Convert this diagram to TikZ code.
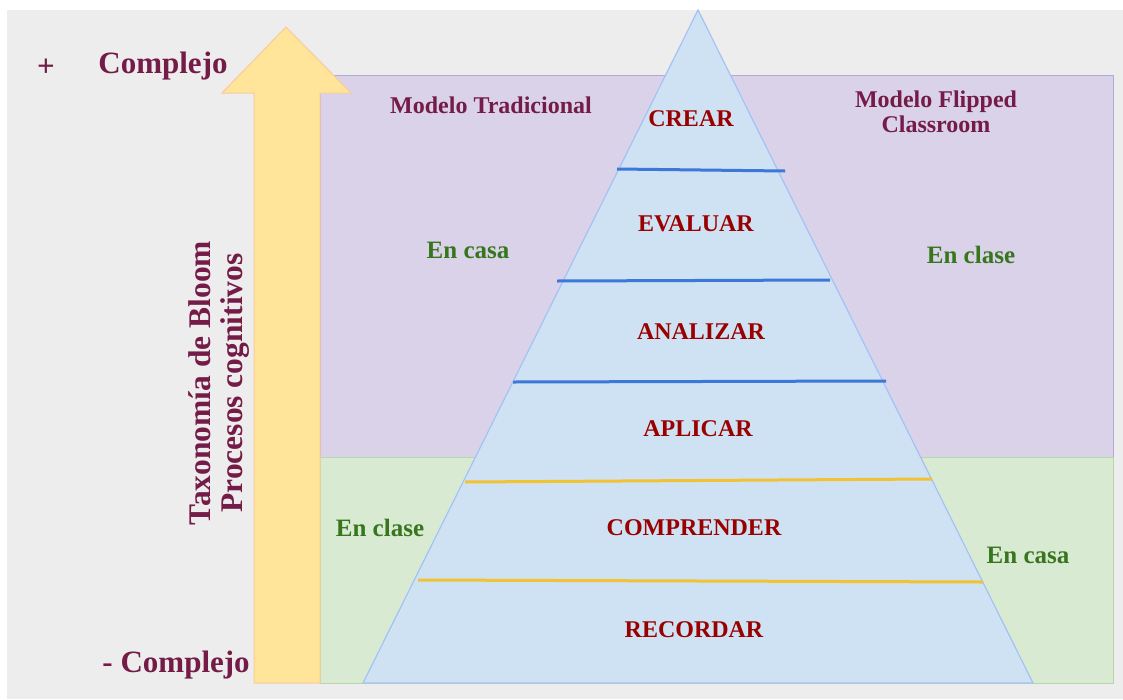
\documentclass[tikz,border=0pt]{standalone}
\usepackage{fontspec}
\setmainfont{Liberation Serif}
\definecolor{bggray}{HTML}{EDEDED}
\definecolor{purplefill}{HTML}{D9D2E9}
\definecolor{purpleline}{HTML}{B4A7D6}
\definecolor{greenfill}{HTML}{D9EAD3}
\definecolor{greenline}{HTML}{B6D7A8}
\definecolor{arrowfill}{HTML}{FFE599}
\definecolor{arrowline}{HTML}{F9CB9C}
\definecolor{pyrfill}{HTML}{CFE2F3}
\definecolor{pyrline}{HTML}{A4C2F4}
\definecolor{bluebar}{HTML}{3C78D8}
\definecolor{yellowbar}{HTML}{F1C232}
\definecolor{maroon}{HTML}{741B47}
\definecolor{darkred}{HTML}{990000}
\definecolor{darkgreen}{HTML}{38761D}
\begin{document}
\begin{tikzpicture}[x=1pt,y=-1pt,
  level/.style={font=\fontsize{24}{26}\selectfont\bfseries, text=darkred, inner sep=0pt},
  place/.style={font=\fontsize{25}{27}\selectfont\bfseries, text=darkgreen, inner sep=0pt},
  model/.style={font=\fontsize{24}{25}\selectfont\bfseries, text=maroon, inner sep=0pt, align=center},
  axislbl/.style={font=\fontsize{31}{32}\selectfont\bfseries, text=maroon, inner sep=0pt},
  bar/.style={line width=3pt}]
\useasboundingbox (0,0) rectangle (1123,699);
\fill[white] (0,0) rectangle (1123,699);
\fill[bggray] (7,10) rectangle (1123,699);
% panels
\filldraw[fill=purplefill, draw=purpleline, line width=1pt] (320,75) rectangle (1113,457);
\filldraw[fill=greenfill, draw=greenline, line width=1pt] (320,457) rectangle (1113,683);
% arrow
\filldraw[fill=arrowfill, draw=arrowline, line width=1pt]
  (286,27) -- (351,93) -- (320,93) -- (320,683) -- (254,683) -- (254,93) -- (222,93) -- cycle;
% pyramid
\coordinate (apex) at (698,10);
\coordinate (bl) at (363,683);
\coordinate (br) at (1033,683);
\filldraw[fill=pyrfill, draw=pyrline, line width=1.2pt] (apex) -- (br) -- (bl) -- cycle;
% divider lines
\coordinate (l1a) at (617,169); \coordinate (l1b) at (785,171);
\coordinate (l2a) at (557,281); \coordinate (l2b) at (830,280);
\coordinate (l3a) at (513,382); \coordinate (l3b) at (886,381);
\coordinate (l4a) at (465,482); \coordinate (l4b) at (932,479);
\coordinate (l5a) at (418,580); \coordinate (l5b) at (983,582);
\draw[bar, bluebar] (l1a) -- (l1b);
\draw[bar, bluebar] (l2a) -- (l2b);
\draw[bar, bluebar] (l3a) -- (l3b);
\draw[bar, yellowbar] (l4a) -- (l4b);
\draw[bar, yellowbar] (l5a) -- (l5b);
% level labels
\node[level] (crear) at (691,119) {CREAR};
\node[level] (evaluar) at (696,224) {EVALUAR};
\node[level] (analizar) at (701,332) {ANALIZAR};
\node[level] (aplicar) at (698,429) {APLICAR};
\node[level] (comprender) at (694,528) {COMPRENDER};
\node[level] (recordar) at (694,630) {RECORDAR};
% model labels
\node[model] (trad) at (491,105) {Modelo Tradicional};
\node[model] (flip) at (936,112) {Modelo Flipped\\Classroom};
% places
\node[place] (casa1) at (468,250) {En casa};
\node[place] (clase1) at (971,255) {En clase};
\node[place] (clase2) at (380,528) {En clase};
\node[place] (casa2) at (1028,555) {En casa};
% axis labels
\node[axislbl] (plus) at (46,68) {+};
\node[axislbl] (maxc) at (163,66) {Complejo};
\node[axislbl] (minc) at (176,665) {-\hspace{8pt}Complejo};
\node[axislbl, rotate=90, align=center, font=\fontsize{31.5}{32}\selectfont\bfseries] (tax) at (219,383) {Taxonomía de Bloom\\Procesos cognitivos};
\end{tikzpicture}
\end{document}
